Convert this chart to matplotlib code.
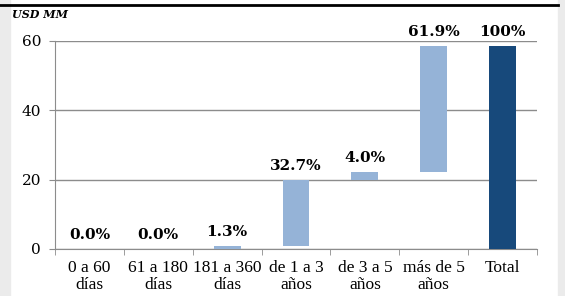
import matplotlib.pyplot as plt
import numpy as np
from matplotlib.patches import Rectangle

# Waterfall: composition by maturity bucket
categories = ['0 a 60\ndías', '61 a 180\ndías', '181 a 360\ndías', 'de 1 a 3\naños',
              'de 3 a 5\naños', 'más de 5\naños', 'Total']
shares = [0.0, 0.0, 1.3, 32.7, 4.0, 61.9]
total = 58.5
labels = ['0.0%', '0.0%', '1.3%', '32.7%', '4.0%', '61.9%', '100%']

light = '#95B3D7'
dark = '#17497B'
grey = '#8C8C8C'

steps = np.array(shares) * total / 100
bottoms = np.concatenate([[0], np.cumsum(steps)[:-1]])
heights = list(steps) + [total]
bottoms = list(bottoms) + [0]
colors = [light] * len(shares) + [dark]

fig = plt.figure(figsize=(5.65, 2.96), dpi=100)
fig.patch.set_facecolor('white')
fig.patches.append(Rectangle((0, 0), 10 / 565, 1, transform=fig.transFigure,
                             color='#EBEBEB', zorder=0))
fig.patches.append(Rectangle((558 / 565, 0), 7 / 565, 1, transform=fig.transFigure,
                             color='#EBEBEB', zorder=0))
fig.lines.append(plt.Line2D([0, 558 / 565], [1 - 5 / 296, 1 - 5 / 296],
                            transform=fig.transFigure, color='black', lw=2))
fig.text(12 / 565, 1 - 15 / 296, 'USD MM', family='DejaVu Serif', style='italic',
         weight='bold', fontsize=8, va='center', ha='left')

ax = fig.add_axes([55 / 565, 1 - 249 / 296, 482 / 565, 208 / 296])
x = np.arange(len(categories))
ax.bar(x, heights, bottom=bottoms, width=0.39, color=colors, zorder=3)

for xi, b, h, lab in zip(x, bottoms, heights, labels):
    ax.annotate(lab, (xi, b + h), xytext=(0, 5), textcoords='offset points',
                ha='center', va='bottom', family='DejaVu Serif', weight='bold',
                fontsize=11)

ax.set_xlim(-0.5, len(categories) - 0.5)
ax.set_ylim(0, 60)
ax.set_yticks([0, 20, 40, 60])
ax.set_xticks(x)
ax.set_xticklabels(categories, family='Liberation Serif', fontsize=12.5, linespacing=1.05)
ax.set_xticks(np.arange(-0.5, len(categories), 1), minor=True)
ax.tick_params(axis='x', which='major', length=0, pad=8)
ax.tick_params(axis='x', which='minor', length=4, color=grey)
ax.tick_params(axis='y', length=4, color=grey, labelsize=11, pad=6)
for t in ax.get_yticklabels():
    t.set_family('DejaVu Serif')
ax.grid(axis='y', color=grey, lw=1, zorder=0)
for s in ['top', 'right']:
    ax.spines[s].set_visible(False)
for s in ['left', 'bottom']:
    ax.spines[s].set_color(grey)

fig.savefig('out.png', dpi=100)
